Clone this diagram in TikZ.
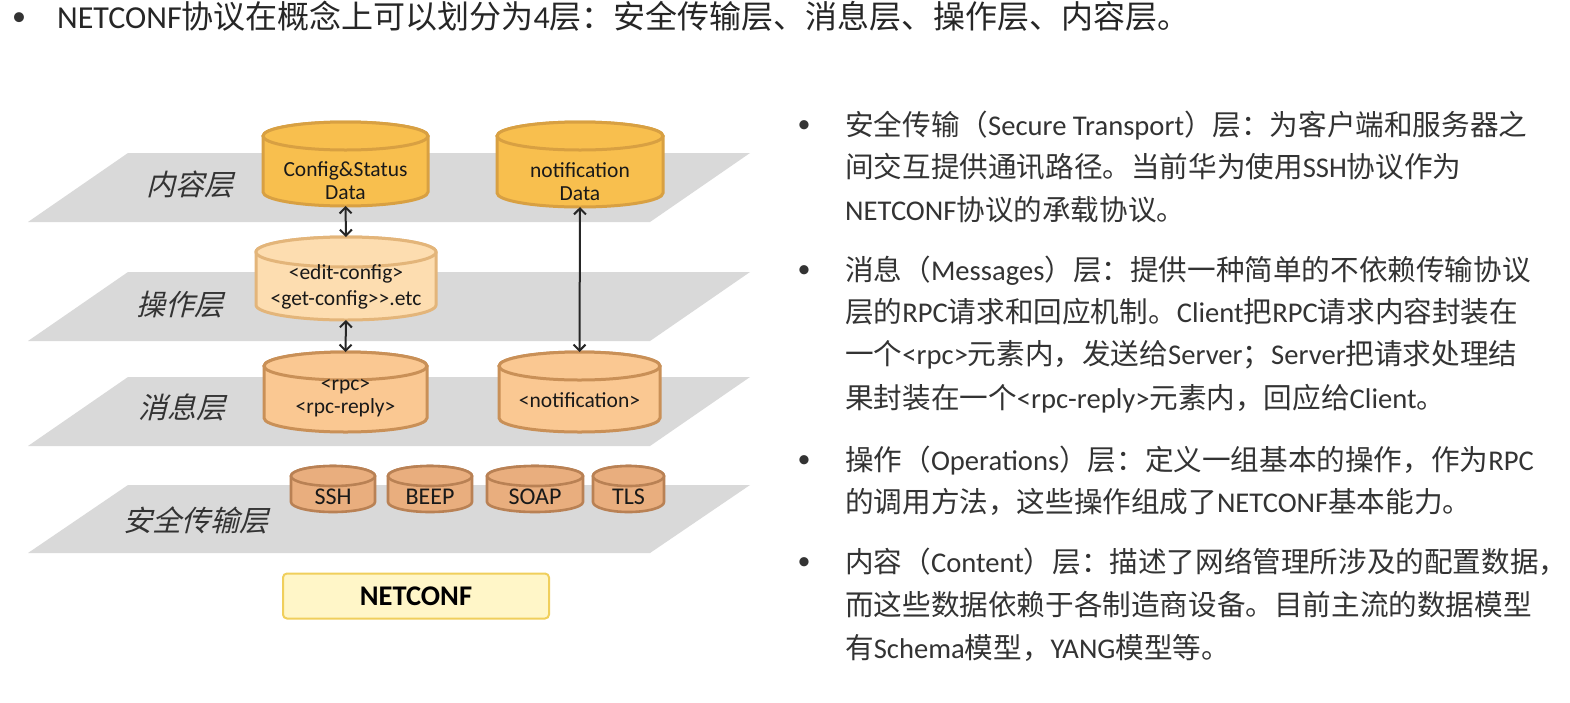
\documentclass[tikz,border=0pt]{standalone}
\usepackage{fontspec}
\setmainfont{Noto Sans CJK SC}
\newfontfamily\la{Carlito}
\newfontfamily\cjit{Noto Sans CJK SC}[FakeSlant=0.25]
\usetikzlibrary{arrows.meta}
\definecolor{planec}{HTML}{D9D9D9}
\definecolor{txt}{HTML}{333333}
\definecolor{goldF}{HTML}{F8BF4E}
\definecolor{goldD}{HTML}{D8A042}
\definecolor{peachF}{HTML}{FDDDB0}
\definecolor{peachD}{HTML}{E3B57A}
\definecolor{orF}{HTML}{FAC892}
\definecolor{orD}{HTML}{C99057}
\definecolor{tanF}{HTML}{E9AE7E}
\definecolor{tanD}{HTML}{B98154}
\definecolor{ncF}{HTML}{FFF6C8}
\definecolor{ncD}{HTML}{F0CF5C}
\tikzset{
  cylA/.style={fill=goldF,draw=goldD,line width=3pt},
  cylB/.style={fill=peachF,draw=peachD,line width=3pt},
  cylC/.style={fill=orF,draw=orD,line width=3pt},
  cylD/.style={fill=tanF,draw=tanD,line width=2.6pt},
  cylshape/.style={inner sep=0pt,outer sep=0pt},
  cyltext/.style={font=\la\fontsize{21.5}{23}\selectfont,text=black!90,align=center,inner sep=0pt},
  layerlbl/.style={font=\cjit\fontsize{29}{32}\selectfont,text=txt,inner sep=0pt},
  para/.style={font=\fontsize{28.6}{34}\selectfont,text=txt,anchor=west,inner sep=0pt,text height=22pt,text depth=6pt},
  bul/.style={font=\la\fontsize{26}{34}\selectfont,text=txt,inner sep=0pt},
  arr/.style={{Straight Barb[length=6pt,width=12pt]}-{Straight Barb[length=6pt,width=12pt]},line width=2pt,draw=black!85},
  plane/.style={fill=planec}
}
\newcommand\mycyl[9]{%
 \pgfmathsetmacro\mycX{(#2+#3)/2}%
 \pgfmathsetmacro\mycR{(#3-#2)/2}%
 \pgfmathsetmacro\mycH{#5-#4}%
 \pgfmathsetmacro\mycY{-(#4+#5)/2}%
 \path[#7] (#2,-#4-#6) -- (#2,-#5+#6) arc[start angle=180,end angle=360,x radius=\mycR,y radius=#6] -- (#3,-#4-#6) arc[start angle=0,end angle=180,x radius=\mycR,y radius=#6] -- cycle;
 \path[#7] (\mycX,-#4-#6) ellipse[x radius=\mycR,y radius=#6];
 \node[cylshape,minimum width=2*\mycR,minimum height=\mycH] (#1) at (\mycX,\mycY) {};
 \node[cyltext] (#1-t) at (\mycX,-#9) {#8};
}
\begin{document}
\begin{tikzpicture}[x=1pt,y=1pt]
\useasboundingbox (0,0) rectangle (1570,-702);
\fill[white] (0,0) rectangle (1570,-702);
% title
\node[bul,font=\la\fontsize{28}{36}\selectfont] (tb) at (19,-19) {•};
\node[para,font=\fontsize{32}{36}\selectfont,text height=25pt,text depth=7pt,text=black!85] (title) at (57,-19) {{\la NETCONF}协议在概念上可以划分为{\la 4}层：安全传输层、消息层、操作层、内容层。};
% planes
\fill[plane] (28,-222) -- (128,-153) -- (750,-153) -- (650,-222) -- cycle;
\fill[plane] (28,-341) -- (128,-272) -- (750,-272) -- (650,-341) -- cycle;
\fill[plane] (28,-446) -- (128,-377) -- (750,-377) -- (650,-446) -- cycle;
\fill[plane] (28,-553) -- (128,-485) -- (750,-485) -- (650,-553) -- cycle;
% layer labels
\node[layerlbl] (l1) at (190,-185) {内容层};
\node[layerlbl] (l2) at (180,-305) {操作层};
\node[layerlbl] (l3) at (182,-407) {消息层};
\node[layerlbl] (l4) at (196,-520) {安全传输层};
% cylinders
\mycyl{cfg}{263}{428}{122}{206}{14}{cylA}{Config\&Status\\Data}{181}
\mycyl{nd}{497}{663}{122}{207}{14}{cylA}{notification\\Data}{182}
\mycyl{edit}{256}{436}{237}{320}{15}{cylB}{<edit-config>\\[3pt]<get-config>>.etc}{287}
\mycyl{rpc}{264}{427}{352}{432}{14}{cylC}{<rpc>\\<rpc-reply>}{398}
\mycyl{nm}{499}{660}{352}{432}{14}{cylC}{<notification>}{400}
\mycyl{ssh}{291}{375}{466}{512}{10}{cylD}{\fontsize{24}{26}\selectfont SSH}{497}
\mycyl{beep}{388}{472}{466}{512}{10}{cylD}{\fontsize{24}{26}\selectfont BEEP}{497}
\mycyl{soap}{487}{583}{466}{512}{10}{cylD}{\fontsize{24}{26}\selectfont SOAP}{497}
\mycyl{tls}{593}{664}{466}{512}{10}{cylD}{\fontsize{24}{26}\selectfont TLS}{497}
% arrows
\draw[arr] (cfg.south) -- (edit.north);
\draw[arr] (edit.south) -- (rpc.north);
\draw[arr] (nd.south) -- (nm.north);
% NETCONF box
\node[fill=ncF,draw=ncD,line width=2pt,rounded corners=4pt,minimum width=266pt,minimum height=45pt,inner sep=0pt,font=\la\bfseries\fontsize{28.5}{30}\selectfont,text=black] (nc) at (416,-596) {NETCONF};
% right bullets
\node[bul] (b1) at (804,-127) {•};
\node[bul] (b2) at (804,-272) {•};
\node[bul] (b3) at (804,-462) {•};
\node[bul] (b4) at (804,-564) {•};
\node[para] (p1a) at (845,-127) {安全传输（{\la Secure Transport}）层：为客户端和服务器之};
\node[para] (p1b) at (845,-169) {间交互提供通讯路径。当前华为使用{\la SSH}协议作为};
\node[para] (p1c) at (845,-212) {{\la NETCONF}协议的承载协议。};
\node[para] (p2a) at (845,-272) {消息（{\la Messages}）层：提供一种简单的不依赖传输协议};
\node[para] (p2b) at (845,-314) {层的{\la RPC}请求和回应机制。{\la Client}把{\la RPC}请求内容封装在};
\node[para] (p2c) at (845,-356) {一个{\la <rpc>}元素内，发送给{\la Server}；{\la Server}把请求处理结};
\node[para] (p2d) at (845,-400) {果封装在一个{\la <rpc-reply>}元素内，回应给{\la Client}。};
\node[para] (p3a) at (845,-462) {操作（{\la Operations}）层：定义一组基本的操作，作为{\la RPC}};
\node[para] (p3b) at (845,-504) {的调用方法，这些操作组成了{\la NETCONF}基本能力。};
\node[para] (p4a) at (845,-564) {内容（{\la Content}）层：描述了网络管理所涉及的配置数据，};
\node[para] (p4b) at (845,-607) {而这些数据依赖于各制造商设备。目前主流的数据模型};
\node[para] (p4c) at (845,-650) {有{\la Schema}模型，{\la YANG}模型等。};
\end{tikzpicture}
\end{document}
